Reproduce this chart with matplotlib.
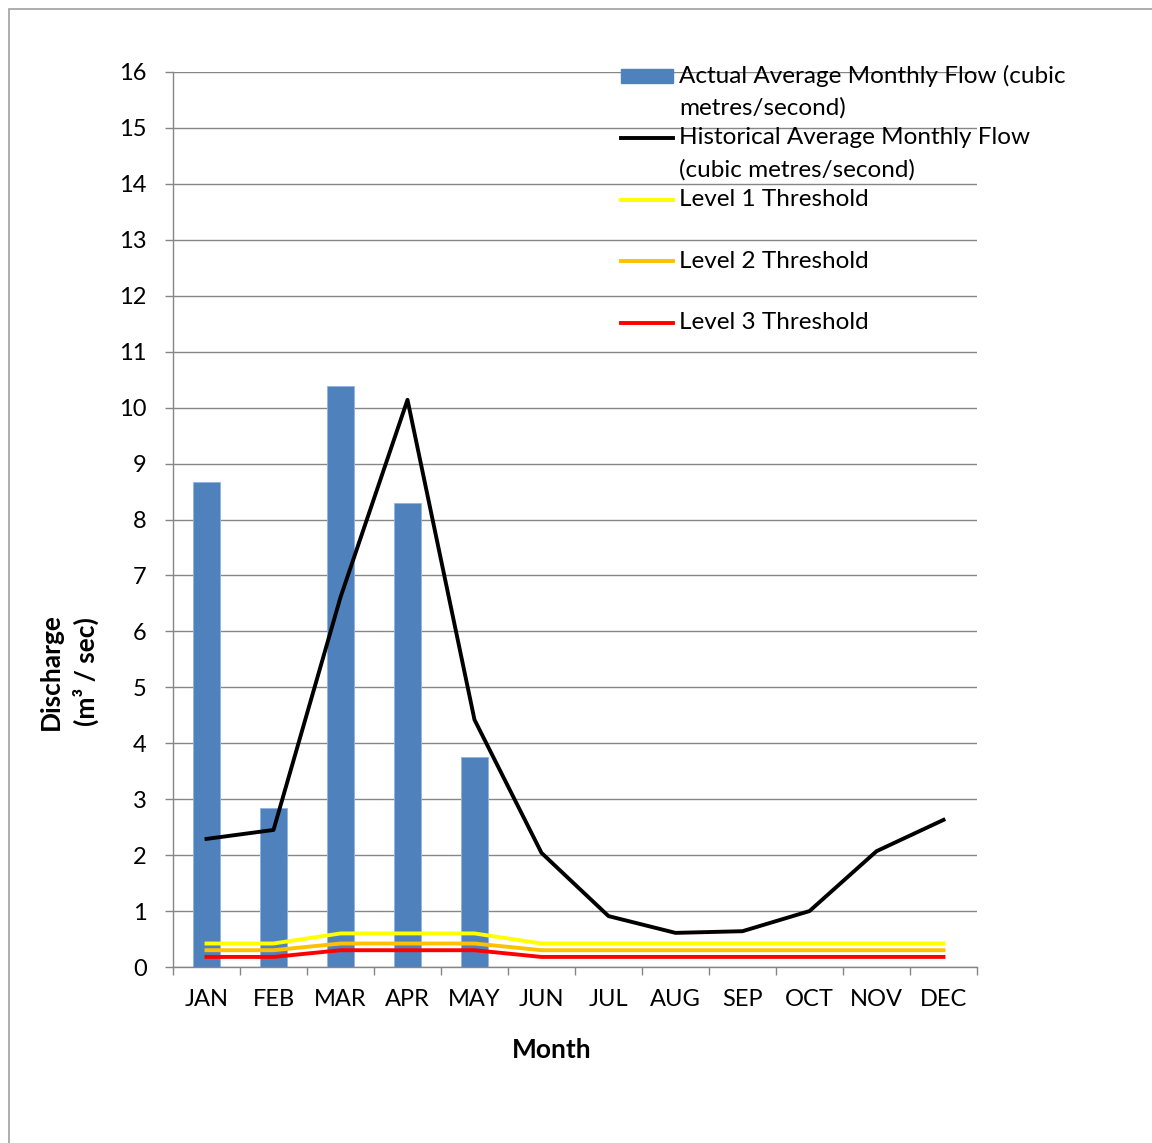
import matplotlib
matplotlib.use("Agg")
import matplotlib.pyplot as plt
from matplotlib.patches import Rectangle
from matplotlib.lines import Line2D
import numpy as np

months = ["JAN", "FEB", "MAR", "APR", "MAY", "JUN", "JUL", "AUG", "SEP", "OCT", "NOV", "DEC"]
actual_flow = [8.67, 2.84, 10.39, 8.29, 3.75, None, None, None, None, None, None, None]
historical_flow = [2.29, 2.45, 6.61, 10.14, 4.42, 2.04, 0.91, 0.61, 0.64, 1.00, 2.07, 2.63]
level1 = [0.42, 0.42, 0.60, 0.60, 0.60, 0.42, 0.42, 0.42, 0.42, 0.42, 0.42, 0.42]
level2 = [0.30, 0.30, 0.42, 0.42, 0.42, 0.30, 0.30, 0.30, 0.30, 0.30, 0.30, 0.30]
level3 = [0.18, 0.18, 0.30, 0.30, 0.30, 0.18, 0.18, 0.18, 0.18, 0.18, 0.18, 0.18]

legend_labels = [
    "Actual Average Monthly Flow (cubic\nmetres/second)",
    "Historical Average Monthly Flow\n(cubic metres/second)",
    "Level 1 Threshold",
    "Level 2 Threshold",
    "Level 3 Threshold",
]

FONT = "Lato"
plt.rcParams["font.family"] = [FONT, "DejaVu Sans"]

W, H = 1152, 1143
fig = plt.figure(figsize=(W / 100, H / 100), dpi=100)

def fx(px):
    return px / W

def fy(py):
    return 1 - py / H

ax = fig.add_axes([fx(173), fy(967), fx(977) - fx(173), fy(72) - fy(967)])

x = np.arange(len(months))
bar_x = [i for i, v in enumerate(actual_flow) if v is not None]
bar_v = [v for v in actual_flow if v is not None]
bar_color = "#4F81BD"
ax.bar(bar_x, bar_v, width=0.4, color=bar_color, edgecolor="#8EB4E3", linewidth=0.6, zorder=2)

ax.plot(x, level1, color="#FFFF00", lw=2.8, zorder=3, solid_joinstyle="round")
ax.plot(x, level2, color="#FFC000", lw=2.8, zorder=3, solid_joinstyle="round")
ax.plot(x, level3, color="#FF0000", lw=2.8, zorder=3, solid_joinstyle="round")
ax.plot(x, historical_flow, color="black", lw=2.8, zorder=4)

ax.set_xlim(-0.5, 11.5)
ax.set_ylim(0, 16)
ax.set_yticks(range(0, 17))
grid_c = "#868686"
ax.yaxis.grid(True, color=grid_c, lw=1.0, zorder=0)
ax.set_axisbelow(True)

TICK_FS = 17
ax.set_xticks(np.arange(-0.5, 12, 1))
ax.set_xticklabels([])
ax.set_xticks(x, minor=True)
ax.set_xticklabels(months, minor=True, fontsize=TICK_FS)
ax.tick_params(axis="x", which="minor", length=0, pad=16)
ax.tick_params(axis="x", which="major", length=6, color=grid_c, width=1.0)
ax.tick_params(axis="y", length=6, color=grid_c, width=1.0, labelsize=TICK_FS, pad=13)

for s in ["top", "right"]:
    ax.spines[s].set_visible(False)
for s in ["left", "bottom"]:
    ax.spines[s].set_color(grid_c)
    ax.spines[s].set_linewidth(1.0)

fig.text(fx(552), fy(1050), "Month", ha="center", va="center", fontsize=19, fontweight="bold")
fig.text(fx(69), fy(672), "Discharge\n(m³ / sec)", ha="center", va="center", rotation=90,
         fontsize=19, fontweight="bold", linespacing=1.45)

# legend drawn by hand so every entry sits on an even row pitch
LEG_FS = 17.5
handle_x0, handle_x1, text_x = 621, 673, 679
rows = [76, 138, 200, 261, 323]
styles = [("bar", bar_color), ("line", "black"), ("line", "#FFFF00"), ("line", "#FFC000"), ("line", "#FF0000")]
for (kind, col), row, lab in zip(styles, rows, legend_labels):
    if kind == "bar":
        fig.add_artist(Rectangle((fx(handle_x0), fy(row + 7)), fx(handle_x1) - fx(handle_x0),
                                 fy(row - 7) - fy(row + 7), color=col, transform=fig.transFigure))
    else:
        fig.add_artist(Line2D([fx(handle_x0), fx(handle_x1)], [fy(row), fy(row)], color=col,
                              lw=2.8, transform=fig.transFigure))
    for k, ln in enumerate(lab.split("\n")):
        fig.text(fx(text_x), fy(row + 32 * k), ln, ha="left", va="center", fontsize=LEG_FS)

# outer frame
fig.add_artist(Rectangle((fx(9), fy(1160)), fx(1170) - fx(9), fy(9) - fy(1160), fill=False,
                         edgecolor="#A0A0A0", lw=1.2, transform=fig.transFigure))

fig.savefig("out.png", dpi=100)
